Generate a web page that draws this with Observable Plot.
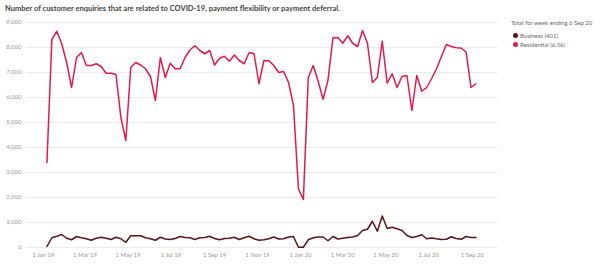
<!DOCTYPE html>
<html>
<head>
<meta charset="utf-8">
<script src="https://cdn.jsdelivr.net/npm/d3@7"></script>
<script src="https://cdn.jsdelivr.net/npm/@observablehq/plot@0.6"></script>
<style>
  html, body { margin: 0; padding: 0; background: #fff; }
  body { width: 600px; height: 267px; position: relative; overflow: hidden; font-family: Lato, "Open Sans", sans-serif; }
  #title { position: absolute; left: 5px; top: 4px; font-size: 7.5px; line-height: 10px; font-weight: bold; color: #444; white-space: nowrap; }
  #chart { position: absolute; left: 0; top: 14px; }
  #legend { position: absolute; left: 511px; top: 18px; font-size: 6px; color: #666; line-height: 9px; }
  #legend .item { position: relative; padding-left: 9px; }
  #legend .dot { position: absolute; left: 2px; top: 2px; width: 5px; height: 5px; border-radius: 50%; }
</style>
</head>
<body>
<div id="title">Number of customer enquiries that are related to COVID-19, payment flexibility or payment deferral.</div>
<div id="chart"></div>
<div id="legend">
  <div style="margin-bottom:4px">Total for week ending 6 Sep 20</div>
  <div class="item"><span class="dot" style="background:#5c1518"></span>Business (401)</div>
  <div class="item"><span class="dot" style="background:#e5194c"></span>Residential (6.5k)</div>
</div>
<script>
// Weekly data, week ending Sunday, from 6 Jan 2019 to 6 Sep 2020
const firstWeek = "2019-01-06";
const residential = [
  3400, 8320, 8650, 8150, 7400, 6400, 7600, 7800, 7280, 7280,
  7350, 7240, 6970, 6970, 6920, 5200, 4280, 7200, 7400, 7300,
  7150, 6840, 5880, 7600, 6800, 7370, 7150, 7150, 7600, 7900,
  8070, 7880, 7750, 7880, 7300, 7570, 7650, 7450, 7700, 7480,
  7350, 7800, 7750, 6550, 7480, 7470, 7280, 7000, 7040, 6600,
  5680, 2350, 1920, 6800, 7280, 6650, 5930, 6700, 8390, 8400,
  8170, 8470, 8170, 8040, 8680, 8170, 6600, 6800, 8250, 6570,
  6950, 6400, 6840, 6880, 5480, 6880, 6250, 6400, 6750, 7150,
  7640, 8120, 8040, 7990, 7980, 7820, 6400, 6550
];
const business = [
  40, 390, 450, 520, 370, 310, 440, 390, 350, 290,
  370, 410, 370, 320, 410, 350, 210, 470, 470, 470,
  390, 350, 290, 410, 340, 320, 360, 440, 400, 390,
  320, 390, 400, 450, 360, 310, 360, 370, 410, 320,
  390, 450, 350, 290, 310, 350, 420, 340, 350, 420,
  440, 10, 10, 310, 390, 420, 420, 270, 440, 340,
  370, 400, 420, 480, 680, 730, 1050, 650, 1260, 760,
  810, 750, 680, 480, 400, 440, 510, 350, 380, 350,
  320, 330, 430, 360, 330, 440, 400, 401
];
const seriesNames = ["Business", "Residential"];
const seriesColors = ["#5c1518", "#e5194c"];
const yTicks = [0, 1000, 2000, 3000, 4000, 5000, 6000, 7000, 8000, 9000];
const xTickDates = ["2019-01-01","2019-03-01","2019-05-01","2019-07-01","2019-09-01","2019-11-01",
                    "2020-01-01","2020-03-01","2020-05-01","2020-07-01","2020-09-01"];

const start = new Date(firstWeek + "T00:00:00Z");
const weekDate = i => new Date(start.getTime() + i * 7 * 86400000);
const rows = [];
business.forEach((v, i) => rows.push({date: weekDate(i), value: v, series: seriesNames[0]}));
residential.forEach((v, i) => rows.push({date: weekDate(i), value: v, series: seriesNames[1]}));

const fmtDate = d3.utcFormat("%-d %b %y");
const chart = Plot.plot({
  width: 600,
  height: 253,
  marginLeft: 26,
  marginRight: 102,
  marginTop: 8,
  marginBottom: 20,
  style: {fontFamily: "Lato, 'Open Sans', sans-serif", fontSize: "6px", color: "#999", background: "transparent"},
  x: {
    type: "utc",
    domain: [new Date("2018-12-08T00:00:00Z"), new Date("2020-10-08T00:00:00Z")],
    ticks: xTickDates.map(s => new Date(s + "T00:00:00Z")),
    tickFormat: fmtDate,
    tickSize: 0,
    tickPadding: 5,
    label: null
  },
  y: {
    domain: [0, 9000],
    ticks: yTicks,
    tickFormat: d3.format(","),
    tickSize: 0,
    tickPadding: 5,
    label: null
  },
  color: {domain: seriesNames, range: seriesColors},
  marks: [
    Plot.gridY(yTicks, {stroke: "#ececec", strokeOpacity: 1, strokeWidth: 1}),
    Plot.axisY({ticks: yTicks, tickFormat: d3.format(","), tickSize: 0, tickPadding: 5, fill: "#999", label: null}),
    Plot.axisX({ticks: xTickDates.map(s => new Date(s + "T00:00:00Z")), tickFormat: fmtDate, tickSize: 0, tickPadding: 5, fill: "#999", label: null}),
    Plot.lineY(rows, {x: "date", y: "value", z: "series", stroke: "series", strokeWidth: 1.5, curve: "linear"})
  ]
});
document.getElementById("chart").appendChild(chart);
</script>
</body>
</html>
